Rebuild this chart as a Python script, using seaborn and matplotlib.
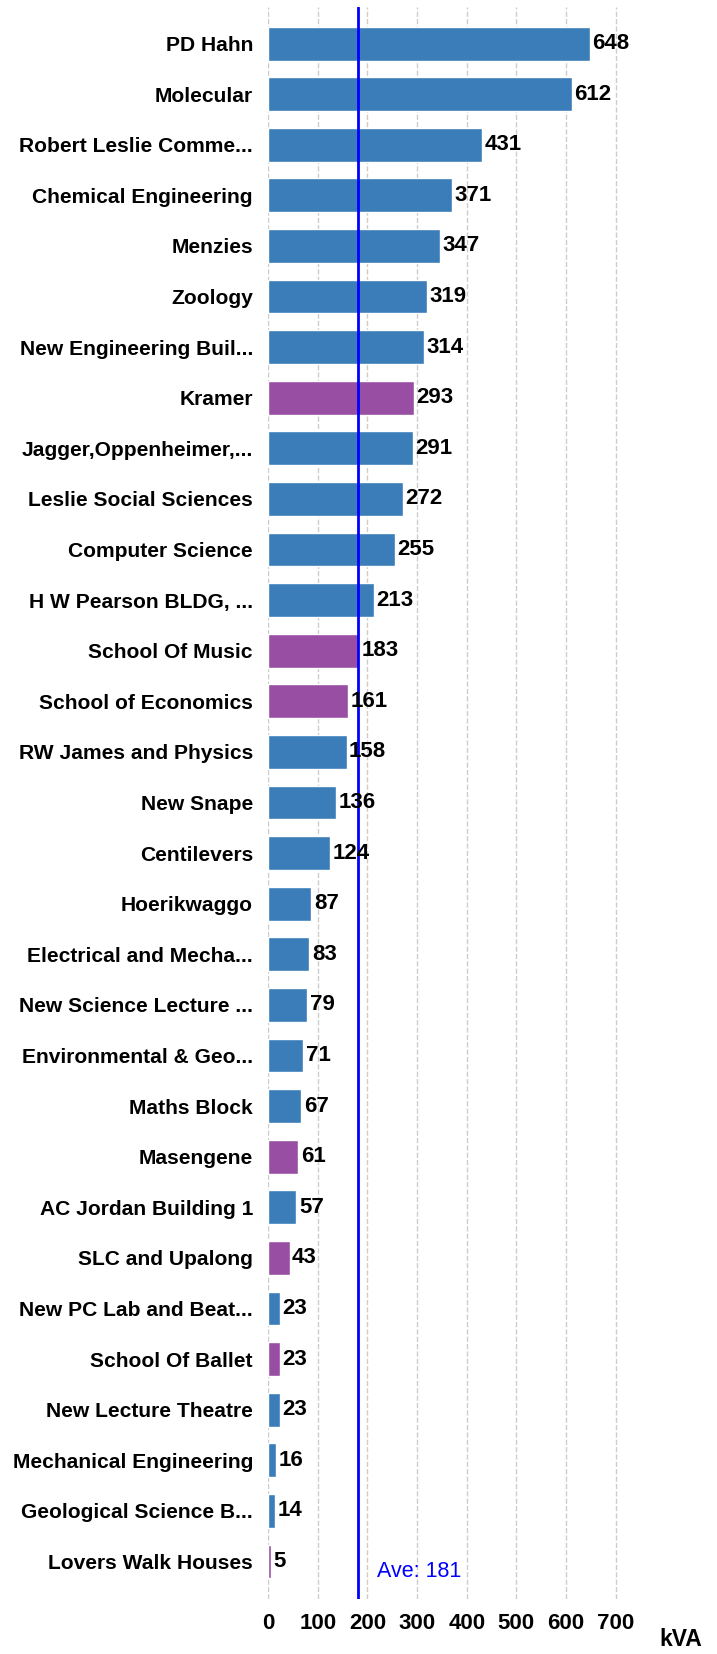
import pandas as pd
import matplotlib.pyplot as plt
import seaborn as sns

# --- DATA ---
BUILDINGS = [
    "PD Hahn", "Molecular", "Robert Leslie Comme...", "Chemical Engineering",
    "Menzies", "Zoology", "New Engineering Buil...", "Kramer",
    "Jagger,Oppenheimer,...", "Leslie Social Sciences", "Computer Science",
    "H W Pearson BLDG, ...", "School Of Music", "School of Economics",
    "RW James and Physics", "New Snape", "Centilevers", "Hoerikwaggo",
    "Electrical and Mecha...", "New Science Lecture ...", "Environmental & Geo...",
    "Maths Block", "Masengene", "AC Jordan Building 1", "SLC and Upalong",
    "New PC Lab and Beat...", "School Of Ballet", "New Lecture Theatre",
    "Mechanical Engineering", "Geological Science B...", "Lovers Walk Houses",
]
KVA = [648, 612, 431, 371, 347, 319, 314, 293, 291, 272, 255, 213, 183, 161,
       158, 136, 124, 87, 83, 79, 71, 67, 61, 57, 43, 23, 23, 23, 16, 14, 5]
GROUP = ["a", "a", "a", "a", "a", "a", "a", "b", "a", "a", "a", "a", "b", "b",
         "a", "a", "a", "a", "a", "a", "a", "a", "b", "a", "b", "a", "b", "a",
         "a", "a", "b"]
AVERAGE = 181
X_TICKS = [0, 100, 200, 300, 400, 500, 600, 700]

COLORS = {"a": "#3a7db8", "b": "#984ea3"}


def draw_chart():
    df = pd.DataFrame({"building": BUILDINGS, "kva": KVA, "group": GROUP})

    sns.set_style("white")
    plt.rcParams['font.family'] = ['Liberation Sans', 'DejaVu Sans']
    plt.rcParams['text.color'] = 'black'
    plt.rcParams['xtick.labelcolor'] = 'black'
    plt.rcParams['ytick.labelcolor'] = 'black'

    fig = plt.figure(figsize=(7.17, 16.54), dpi=100)
    ax = fig.add_axes([0.374, 0.033, 0.54, 0.963])

    sns.barplot(data=df, x="kva", y="building", hue="group", palette=COLORS,
                dodge=False, legend=False, width=0.67, saturation=1, ax=ax,
                orient="h")

    # value labels at bar ends
    for i, v in enumerate(KVA):
        ax.text(v + 5, i, str(v), va="center", ha="left",
                fontsize=16, fontweight="bold", color="black", zorder=5)

    # average line
    ax.axvline(AVERAGE, color="#0000ff", linewidth=2, zorder=4)
    ax.annotate(f"Ave: {AVERAGE}", xy=(AVERAGE, 30.2), xytext=(14, 0),
                textcoords="offset points", color="#0000ff", fontsize=15.5,
                va="center", ha="left")

    ax.set_xlim(0, 780)
    ax.set_ylim(30.75, -0.73)
    ax.set_xticks(X_TICKS)
    ax.set_xticklabels([str(t) for t in X_TICKS], fontsize=16, fontweight="bold")
    ax.tick_params(axis="x", length=2, color="#f5a040", pad=8)
    ax.tick_params(axis="y", length=0, pad=11)
    for lbl in ax.get_yticklabels():
        lbl.set_fontsize(15.1)
        lbl.set_fontweight("bold")

    ax.grid(axis="x", linestyle="--", color="#cccccc", linewidth=1)
    ax.set_axisbelow(True)
    sns.despine(ax=ax, left=True, bottom=True)

    ax.set_ylabel("")
    ax.set_xlabel("")
    fig.text(0.949, 0.002, "kVA", ha="center", va="bottom",
             fontsize=16.5, fontweight="bold")

    fig.savefig("out.png", dpi=100)


if __name__ == "__main__":
    draw_chart()
